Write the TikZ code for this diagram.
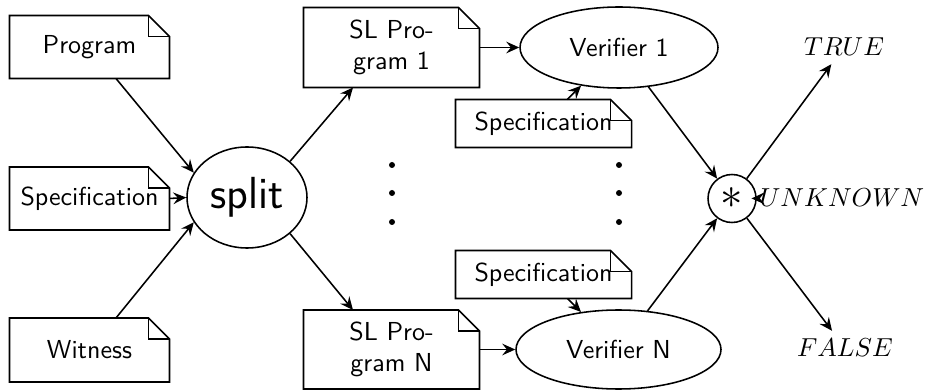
\documentclass[tikz,border=0pt]{standalone}
\usetikzlibrary{shapes.geometric,arrows.meta}
\def\pxu{0.3846pt}
\tikzset{
  x=0.3846pt, y=-0.3846pt,
  lw/.style={line width=0.6pt},
  doc/.style={rectangle, inner sep=0pt, font=\sffamily, align=center},
  ell/.style={ellipse, draw, lw, inner sep=0pt, font=\sffamily},
  conn/.style={lw, -{Stealth[length=5pt,width=4.5pt,inset=1.8pt]}},
  res/.style={inner sep=3pt},
  dot/.style={circle, fill, inner sep=0pt, minimum size=6*\pxu}
}
\newcommand\drawdoc[1]{%
  \draw[lw] (#1.south west) -- (#1.north west) -- ([xshift=-8.1pt]#1.north east)
    -- ([yshift=-8.1pt]#1.north east) -- (#1.south east) -- cycle;
  \draw[lw] ([xshift=-8.1pt]#1.north east) |- ([yshift=-8.1pt]#1.north east);}
\begin{document}
\begin{tikzpicture}
\useasboundingbox (0,0) rectangle (931,390);
% documents
\node[doc, minimum width=159*\pxu, minimum height=62*\pxu] (prog) at (89.5,47) {Program};
\node[doc, minimum width=159*\pxu, minimum height=62*\pxu] (specL) at (89.5,198.5) {Specification};
\node[doc, minimum width=159*\pxu, minimum height=63*\pxu] (wit) at (89.5,350) {Witness};
\node[doc, minimum width=175*\pxu, minimum height=79*\pxu] (sl1) at (391.5,47.5) {SL Pro-\\gram 1};
\node[doc, minimum width=175*\pxu, minimum height=78*\pxu] (slN) at (391.5,349.5) {SL Pro-\\gram N};
\node[doc, minimum width=175*\pxu, minimum height=47*\pxu] (spec1) at (543.5,123.5) {Specification};
\node[doc, minimum width=175*\pxu, minimum height=47*\pxu] (spec2) at (543.5,274.5) {Specification};
\drawdoc{prog}\drawdoc{specL}\drawdoc{wit}\drawdoc{sl1}\drawdoc{slN}\drawdoc{spec1}\drawdoc{spec2}
% ellipses
\node[ell, font=\sffamily\LARGE, minimum width=120*\pxu, minimum height=101*\pxu] (split) at (247,197.5) {split};
\node[ell, minimum width=198*\pxu, minimum height=81*\pxu] (v1) at (619,47.5) {Verifier 1};
\node[ell, minimum width=205*\pxu, minimum height=79*\pxu] (vN) at (618.5,349.5) {Verifier N};
\node[circle, draw, lw, inner sep=0pt, minimum size=48*\pxu, font=\LARGE] (circ) at (732,198.5) {$*$};
% results
\node[res] (true) at (844,47) {$TRUE$};
\node[res] (unk) at (842,198) {$UNKNOWN$};
\node[res] (false) at (845,348) {$FALSE$};
% dots
\foreach \yy in {165,193,222} {
  \node[dot] at (392,\yy) {};
  \node[dot] at (619,\yy) {};
}
% connectors
\draw[conn] ([xshift=26.5*\pxu]prog.south) -- (split.155);
\draw[conn] (specL.east) -- (split.west);
\draw[conn] ([xshift=26.5*\pxu]wit.north) -- (split.205);
\draw[conn] (split.40) -- ([xshift=-38.5*\pxu]sl1.south);
\draw[conn] (split.-40) -- ([xshift=-38.5*\pxu]slN.north);
\draw[conn] (sl1.east) -- (v1.west);
\draw[conn] (slN.east) -- (vN.west);
\draw[conn] (spec1) -- (v1);
\draw[conn] (spec2) -- (vN);
\draw[conn] (v1) -- (circ);
\draw[conn] (vN) -- (circ);
\draw[conn] (circ) -- (true);
\draw[conn] (circ) -- (unk);
\draw[conn] (circ) -- (false);
\end{tikzpicture}
\end{document}
